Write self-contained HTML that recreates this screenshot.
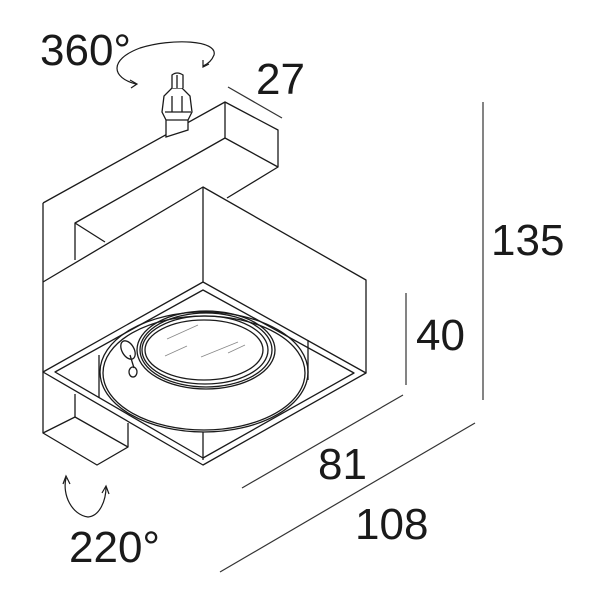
<!DOCTYPE html>
<html><head><style>
html,body{margin:0;padding:0;background:#fff;}
svg{display:block;}
text{font-family:"Liberation Sans",sans-serif;fill:#1a1a1a;}
</style></head><body>
<svg width="600" height="600" viewBox="0 0 600 600" xmlns="http://www.w3.org/2000/svg">
<g fill="none" stroke="#1a1a1a" stroke-width="1.3" stroke-linejoin="round">
<!-- arm -->
<path d="M43,203 L225,102 L278,130 L278,167 L227,198"/>
<path d="M225,102 L225,138 L278,167"/>
<path d="M225,138 L75,223 L75,260"/>
<path d="M75,223 L105,242"/>
<path d="M43,203 L43,282"/>
<!-- main box -->
<path d="M43,282 L203,187 L366,280 L366,373"/>
<path d="M203,187 L203,282"/>
<path d="M43,282 L43,372"/>
<!-- bottom diamond -->
<path d="M43,372 L203,282 L366,373 L203,465 Z"/>
<path d="M55,372 L203,290 L354,373 L203,458 Z"/>
<path d="M99,355 L99,398"/>
<path d="M308,340 L308,380"/>
<path d="M203,432 L203,460"/>
<!-- lower mount -->
<path d="M43,372 L43,433 L97,465 L128,447 L128,423"/>
<path d="M43,433 L75,417 L128,447"/>
<path d="M75,394 L75,417"/>
<!-- reflector -->
<ellipse cx="204" cy="372" rx="104" ry="60"/>
<ellipse cx="204" cy="373" rx="101" ry="57"/>
<ellipse cx="206" cy="350" rx="69" ry="39"/>
<ellipse cx="206" cy="350" rx="66" ry="37"/>
<ellipse cx="205" cy="350" rx="63" ry="34"/>
<ellipse cx="204" cy="350" rx="59" ry="30"/>
<ellipse cx="128" cy="350" rx="6" ry="10" transform="rotate(-30 128 350)"/>
<ellipse cx="133" cy="372" rx="4" ry="5"/>
<path d="M130,355 L134,368" />
</g>
<g stroke="#888" stroke-width="0.8">
<line x1="167" y1="339" x2="198" y2="325"/>
<line x1="165" y1="356" x2="187" y2="346"/>
<line x1="201" y1="357" x2="238" y2="342"/>
<line x1="228" y1="353" x2="245" y2="345"/>
</g>
<!-- plug -->
<g fill="#fff" stroke="#1a1a1a" stroke-width="1.3">
<path d="M166,137 L166,120 L162,112 L164,96 L172,88 L182,88 L190,96 L192,112 L188,120 L188,130 Z"/>
<path d="M172,88 L172,75 Q177,71 183,75 L183,88"/>
<path d="M165,112 L191,112 M166,120 L188,120 M172,96 L172,112 M182,96 L182,112 M177,75 L177,88"/>
</g>
<!-- rotation arrows -->
<g fill="none" stroke="#1a1a1a" stroke-width="1.2">
<path d="M136,84 C112,78 108,60 140,48 C172,38 218,40 214,55 C212,60 208,64 203,66"/>
<path d="M130,80 L137,84 L131,88"/>
<path d="M203,60 L203,67 L209,64"/>
<path d="M66,478 C62,495 72,515 88,517 C100,516 106,500 106,487"/>
<path d="M63,484 L66,476 L70,484"/>
<path d="M102,493 L106,486 L109,494"/>
</g>
<!-- dimension lines -->
<g stroke="#333" stroke-width="1.2">
<line x1="228" y1="87" x2="282" y2="118"/>
<line x1="483" y1="102" x2="483" y2="400"/>
<line x1="406" y1="293" x2="406" y2="385"/>
<line x1="403" y1="395" x2="242" y2="488"/>
<line x1="475" y1="423" x2="220" y2="572"/>
</g>
<text x="40" y="65" font-size="44">360°</text>
<text x="256" y="94" font-size="44">27</text>
<text x="491" y="255" font-size="44">135</text>
<text x="416" y="350" font-size="44">40</text>
<text x="318" y="479" font-size="44">81</text>
<text x="355" y="539" font-size="44">108</text>
<text x="69" y="562" font-size="44">220°</text>
</svg>
</body></html>
